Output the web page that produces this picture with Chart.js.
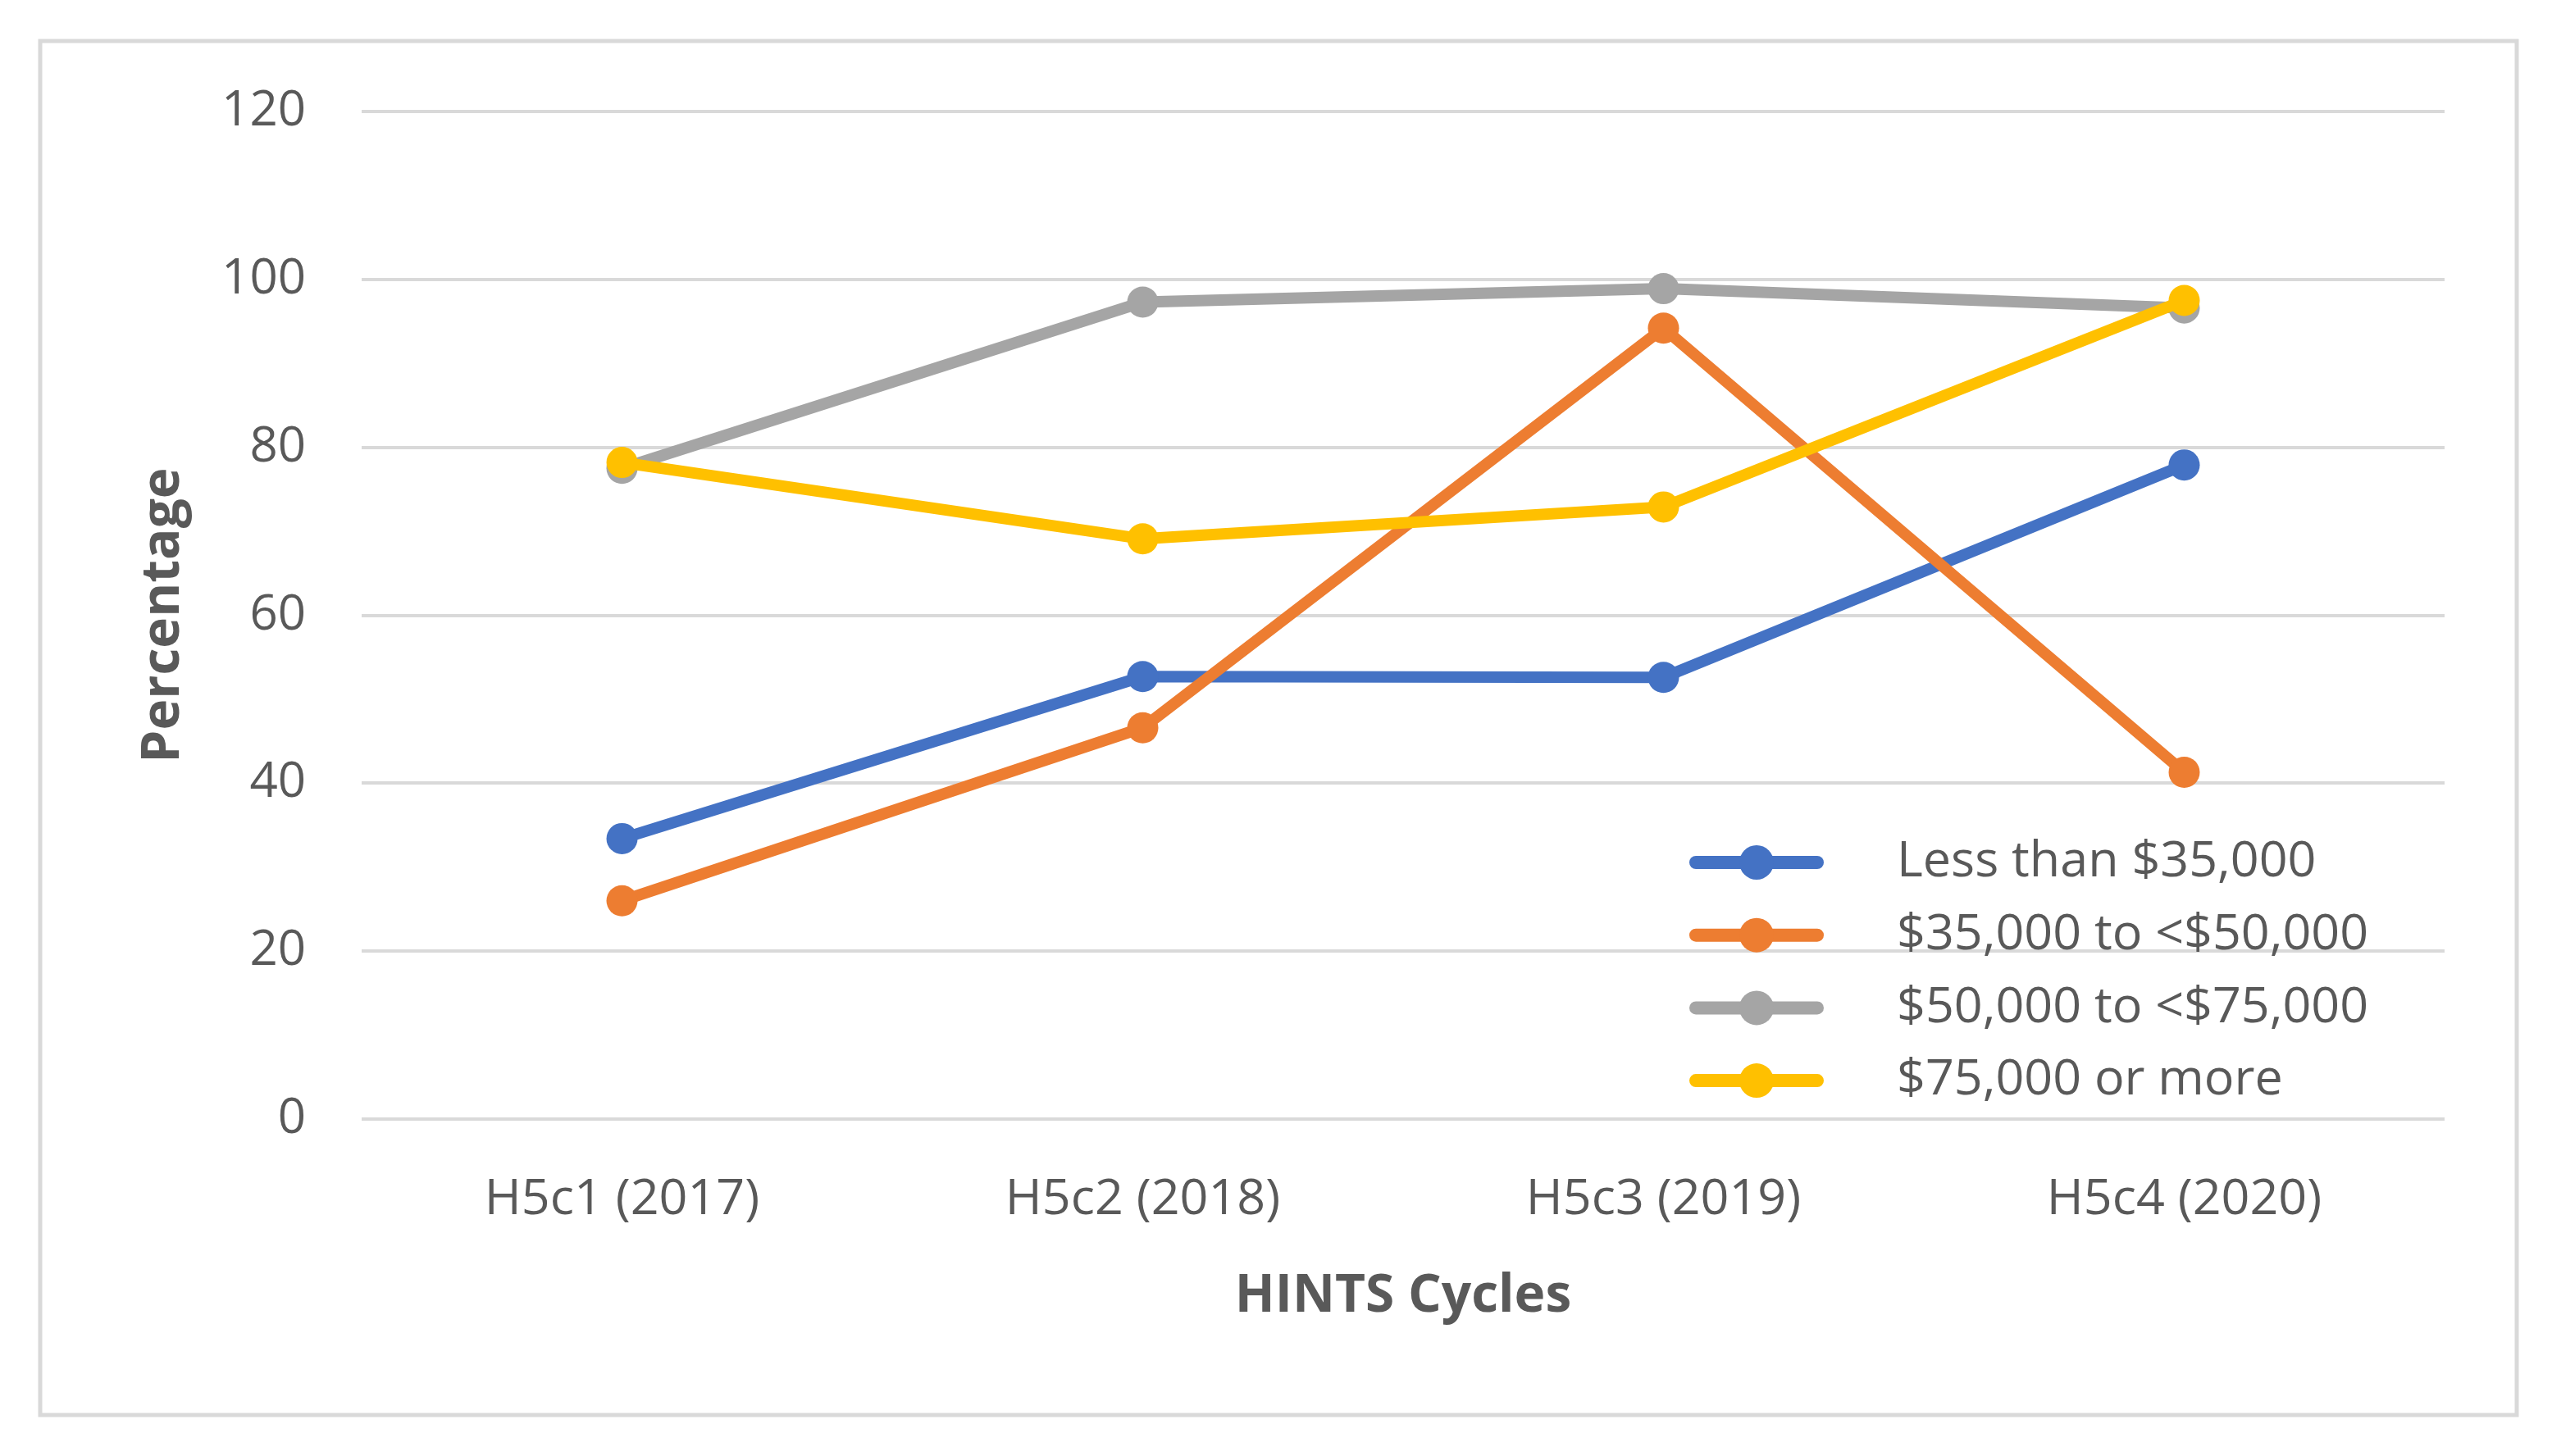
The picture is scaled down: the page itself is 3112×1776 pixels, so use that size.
<!DOCTYPE html>
<html>
<head>
<meta charset="utf-8">
<script src="https://cdn.jsdelivr.net/npm/chart.js@4/dist/chart.umd.min.js"></script>
<style>
  html, body { margin: 0; padding: 0; background: #fff; }
  #chart { display: block; }
</style>
</head>
<body>
<canvas id="chart" width="3112" height="1776"></canvas>
<script>
    "use strict";

    var cycles = ['H5c1 (2017)', 'H5c2 (2018)', 'H5c3 (2019)', 'H5c4 (2020)'];
    var seriesNames = ['Less than $35,000', '$35,000 to <$50,000', '$50,000 to <$75,000', '$75,000 or more'];
    var lessThan35k = [33.4, 52.7, 52.6, 77.9];
    var from35kTo50k = [26.0, 46.6, 94.2, 41.3];
    var from50kTo75k = [77.5, 97.3, 98.9, 96.6];
    var over75k = [78.2, 69.1, 72.9, 97.5];
    var yTicks = [0, 20, 40, 60, 80, 100, 120];

    var colors = ['#4472C4', '#ED7D31', '#A5A5A5', '#FFC000'];
    var textColor = '#595959';
    var fontFamily = "'Open Sans', 'Noto Sans', sans-serif";

    function makeDataset(i, values) {
        return {
            label: seriesNames[i],
            data: values,
            borderColor: colors[i],
            backgroundColor: colors[i],
            borderWidth: 14,
            pointRadius: 19,
            pointHoverRadius: 19,
            pointBorderWidth: 0,
            pointBackgroundColor: colors[i],
            tension: 0,
            order: 4 - i
        };
    }

    // frame around the whole chart, like the Excel chart area border
    var framePlugin = {
        id: 'frame',
        beforeDraw: function(chart) {
            var ctx = chart.ctx;
            ctx.save();
            ctx.fillStyle = '#ffffff';
            ctx.fillRect(0, 0, chart.width, chart.height);
            ctx.strokeStyle = '#D9D9D9';
            ctx.lineWidth = 5;
            ctx.strokeRect(49, 50, 3020, 1676);
            ctx.restore();
        }
    };

    // legend drawn inside the plot area, lower right
    var insideLegend = {
        id: 'insideLegend',
        afterDatasetsDraw: function(chart) {
            var ctx = chart.ctx;
            ctx.save();
            chart.data.datasets.forEach(function(ds, i) {
                var y = 1052 + i * 88.7;
                ctx.strokeStyle = ds.borderColor;
                ctx.lineWidth = 16;
                ctx.lineCap = 'round';
                ctx.beginPath();
                ctx.moveTo(2068, y);
                ctx.lineTo(2216, y);
                ctx.stroke();
                ctx.fillStyle = ds.borderColor;
                ctx.beginPath();
                ctx.arc(2142, y, 21, 0, Math.PI * 2);
                ctx.fill();
                ctx.fillStyle = textColor;
                ctx.font = '61px ' + fontFamily;
                ctx.textAlign = 'left';
                ctx.textBaseline = 'middle';
                ctx.fillText(ds.label, 2313, y);
            });
            ctx.restore();
        }
    };

    var ctx = document.getElementById('chart').getContext('2d');
    var chart = new Chart(ctx, {
        type: 'line',
        data: {
            labels: cycles,
            datasets: [
                makeDataset(0, lessThan35k),
                makeDataset(1, from35kTo50k),
                makeDataset(2, from50kTo75k),
                makeDataset(3, over75k)
            ]
        },
        options: {
            responsive: false,
            animation: false,
            devicePixelRatio: 1,
            layout: {
                padding: { left: 161, right: 131, top: 136, bottom: 156 }
            },
            plugins: {
                legend: { display: false },
                tooltip: { enabled: false }
            },
            scales: {
                x: {
                    offset: true,
                    grid: { display: false },
                    border: { display: false },
                    ticks: {
                        color: textColor,
                        padding: 54,
                        font: { family: fontFamily, size: 61 }
                    },
                    title: {
                        display: true,
                        text: 'HINTS Cycles',
                        color: textColor,
                        padding: 0,
                        font: { family: fontFamily, size: 64, weight: 'bold' }
                    },
                    afterFit: function(scale) {
                        scale.height = 255;
                    }
                },
                y: {
                    min: 0,
                    max: 120,
                    afterBuildTicks: function(scale) {
                        scale.ticks = yTicks.map(function(v) { return { value: v }; });
                    },
                    grid: {
                        color: '#D9D9D9',
                        lineWidth: 4,
                        drawTicks: false
                    },
                    border: { display: false },
                    ticks: {
                        color: textColor,
                        padding: 68,
                        font: { family: fontFamily, size: 60 }
                    },
                    title: {
                        display: true,
                        text: 'Percentage',
                        color: textColor,
                        padding: 0,
                        font: { family: fontFamily, size: 64, weight: 'bold' }
                    },
                    afterFit: function(scale) {
                        scale.width = 280;
                    }
                }
            }
        },
        plugins: [framePlugin, insideLegend]
    });
</script>
</body>
</html>
